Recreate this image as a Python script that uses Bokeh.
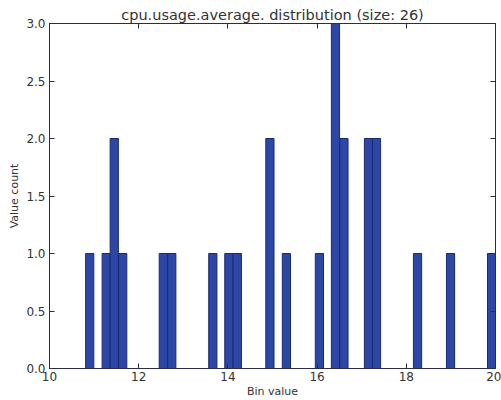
from bokeh.plotting import figure
from bokeh.models import LinearAxis, FixedTicker, Range1d
from bokeh.embed import file_html
from bokeh.resources import INLINE

# Histogram of cpu.usage.average: 50 equal bins between the sample min and max
bin_left = [10.81, 11.18, 11.36, 11.55, 12.46, 12.65, 13.57, 13.93, 14.12,
            14.85, 15.22, 15.96, 16.32, 16.51, 17.06, 17.24, 18.16, 18.90, 19.82]
bin_width = 0.1838
counts = [1, 1, 2, 1, 1, 1, 1, 1, 1, 2, 1, 1, 3, 2, 2, 2, 1, 1, 1]

x_ticks = [10, 12, 14, 16, 18, 20]
y_ticks = [0.0, 0.5, 1.0, 1.5, 2.0, 2.5, 3.0]

title = "cpu.usage.average. distribution (size: %d)" % sum(counts)

FONT = "DejaVu Sans"
TEXT = "#333333"
AXIS = "#2b2b4a"

p = figure(width=501, height=400, output_backend="svg", toolbar_location=None,
           x_range=Range1d(10, 20), y_range=Range1d(0, 3),
           min_border_left=49, min_border_right=6, min_border_top=23,
           min_border_bottom=31, x_axis_location=None, y_axis_location=None)
p.background_fill_color = "white"
p.border_fill_color = "white"
p.outline_line_color = AXIS
p.outline_line_width = 1
p.xgrid.visible = False
p.ygrid.visible = False

p.title.text = title
p.title.text_font = FONT
p.title.text_font_size = "14.5px"
p.title.text_font_style = "normal"
p.title.text_color = TEXT
p.title.align = "center"
p.title.offset = 0
p.title.standoff = 1

right_edges = [l + bin_width for l in bin_left]
p.quad(left=bin_left, right=right_edges, bottom=0, top=counts,
       fill_color="#2c47a6", line_color="#1b2a6e", line_width=1)


def style_axis(ax, ticks, labels=True):
    ax.ticker = FixedTicker(ticks=ticks)
    ax.axis_line_color = AXIS
    ax.major_tick_line_color = AXIS
    ax.major_tick_in = 5
    ax.major_tick_out = 0
    ax.minor_tick_line_color = None
    ax.major_label_text_font = FONT
    ax.major_label_text_font_size = "12px"
    ax.major_label_text_color = TEXT
    ax.axis_label_text_font = FONT
    ax.axis_label_text_font_size = "11px"
    ax.axis_label_text_font_style = "normal"
    ax.axis_label_text_color = TEXT
    if not labels:
        # tick marks only on the mirrored sides of the frame
        ax.major_label_text_color = None
        ax.major_label_standoff = 0


xb = LinearAxis(axis_label="Bin value")
style_axis(xb, x_ticks)
xb.major_label_standoff = 3
xb.axis_label_standoff = 1
p.add_layout(xb, "below")

yl = LinearAxis(axis_label="Value count")
style_axis(yl, y_ticks)
yl.major_label_overrides = {t: "%.1f" % t for t in y_ticks}
yl.major_label_standoff = 4
yl.axis_label_standoff = 2
p.add_layout(yl, "left")

xt = LinearAxis()
style_axis(xt, x_ticks, labels=False)
p.add_layout(xt, "above")

yr = LinearAxis()
style_axis(yr, y_ticks, labels=False)
p.add_layout(yr, "right")

open("out.html", "w").write(file_html(p, INLINE))
